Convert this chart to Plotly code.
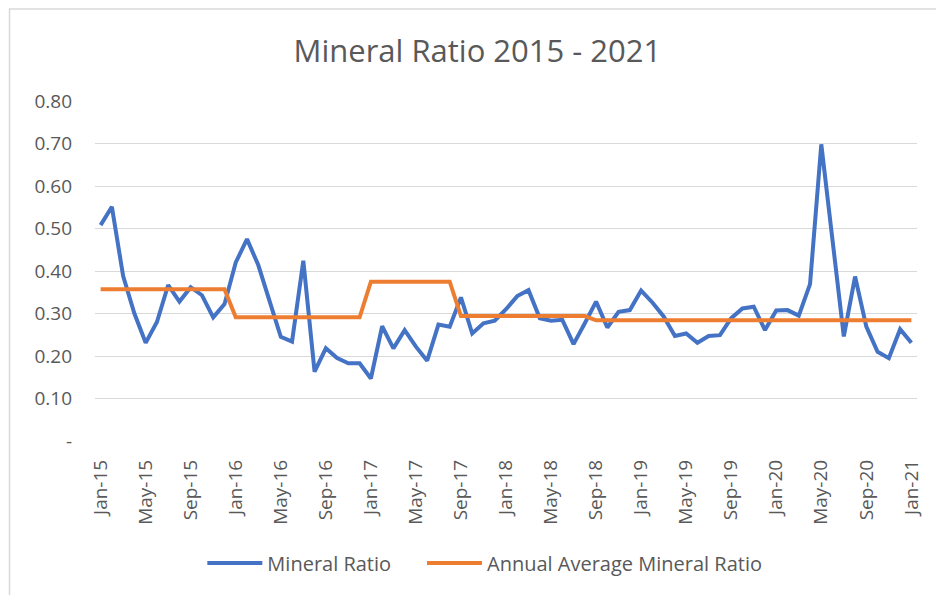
import plotly.graph_objects as go

months = ["Jan", "Feb", "Mar", "Apr", "May", "Jun", "Jul", "Aug", "Sep", "Oct", "Nov", "Dec"]
years = ["15", "16", "17", "18", "19", "20"]
categories = [f"{m}-{y}" for y in years for m in months] + ["Jan-21"]

mineral_ratio = [
    0.508, 0.551, 0.388, 0.300, 0.231, 0.280, 0.367, 0.328, 0.362, 0.343, 0.291, 0.322,  # 2015
    0.420, 0.475, 0.414, 0.332, 0.245, 0.234, 0.424, 0.163, 0.218, 0.195, 0.183, 0.183,  # 2016
    0.147, 0.270, 0.218, 0.261, 0.222, 0.189, 0.274, 0.269, 0.338, 0.253, 0.277, 0.283,  # 2017
    0.310, 0.341, 0.355, 0.289, 0.283, 0.285, 0.228, 0.277, 0.328, 0.267, 0.304, 0.308,  # 2018
    0.354, 0.326, 0.293, 0.247, 0.253, 0.231, 0.247, 0.249, 0.289, 0.312, 0.316, 0.261,  # 2019
    0.307, 0.308, 0.295, 0.369, 0.698, 0.472, 0.246, 0.387, 0.269, 0.210, 0.195, 0.263,  # 2020
    0.231,                                                                                  # 2021
]

annual_average = (
    [0.357] * 12 +
    [0.291] * 12 +
    [0.375] * 8 +
    [0.294] * 12 +
    [0.284] * 29
)

tick_labels = categories[::4]
y_ticks = [0, 0.1, 0.2, 0.3, 0.4, 0.5, 0.6, 0.7, 0.8]
y_tick_text = ["-", "0.10", "0.20", "0.30", "0.40", "0.50", "0.60", "0.70", "0.80"]

FONT = "'Open Sans', 'Noto Sans', sans-serif"
GREY = "#595959"

fig = go.Figure()
fig.add_trace(go.Scatter(
    x=categories, y=mineral_ratio, mode="lines", name="Mineral Ratio",
    line=dict(color="#4472C4", width=4), legend="legend",
))
fig.add_trace(go.Scatter(
    x=categories, y=annual_average, mode="lines", name="Annual Average Mineral Ratio",
    line=dict(color="#ED7D31", width=4), legend="legend2",
))

legend_common = dict(orientation="h", xanchor="left", y=(441 - 563) / 340, yanchor="middle",
                     font=dict(size=20, color=GREY), itemwidth=55,
                     bgcolor="rgba(0,0,0,0)")

fig.update_layout(
    width=936, height=595,
    margin=dict(l=95, r=14, t=101, b=154),
    paper_bgcolor="white", plot_bgcolor="white",
    font=dict(family=FONT, color=GREY, size=19),
    title=dict(text="Mineral Ratio 2015 - 2021", x=0.51, xanchor="center",
               y=1 - 51 / 595, yanchor="middle", font=dict(size=31, color=GREY)),
    showlegend=True,
    legend=dict(x=(203 - 95) / 827, **legend_common),
    legend2=dict(x=(424 - 95) / 827, **legend_common),
    xaxis=dict(
        type="category", categoryorder="array", categoryarray=categories,
        range=[-0.5, 72.5], showgrid=False, zeroline=False, showline=False,
        tickmode="array", tickvals=tick_labels, ticktext=tick_labels,
        tickangle=-90, ticks="", ticklabelstandoff=14,
        tickfont=dict(size=19, color=GREY),
    ),
    yaxis=dict(
        range=[0, 0.8], tickmode="array", tickvals=y_ticks, ticktext=y_tick_text,
        showgrid=True, gridcolor="#D9D9D9", gridwidth=1.3,
        zeroline=False, showline=False, ticks="", ticklabelstandoff=22,
        tickfont=dict(size=19, color=GREY),
    ),
    shapes=[dict(
        type="rect", xref="paper", yref="paper",
        x0=(9 - 95) / 827, x1=1.2, y0=-1.0, y1=(441 - 9) / 340,
        line=dict(color="#D9D9D9", width=1.5), fillcolor="rgba(0,0,0,0)",
        layer="below",
    )],
)

fig.write_html("out.html", config={"displayModeBar": False},
               post_script="document.body.style.margin='0';")
